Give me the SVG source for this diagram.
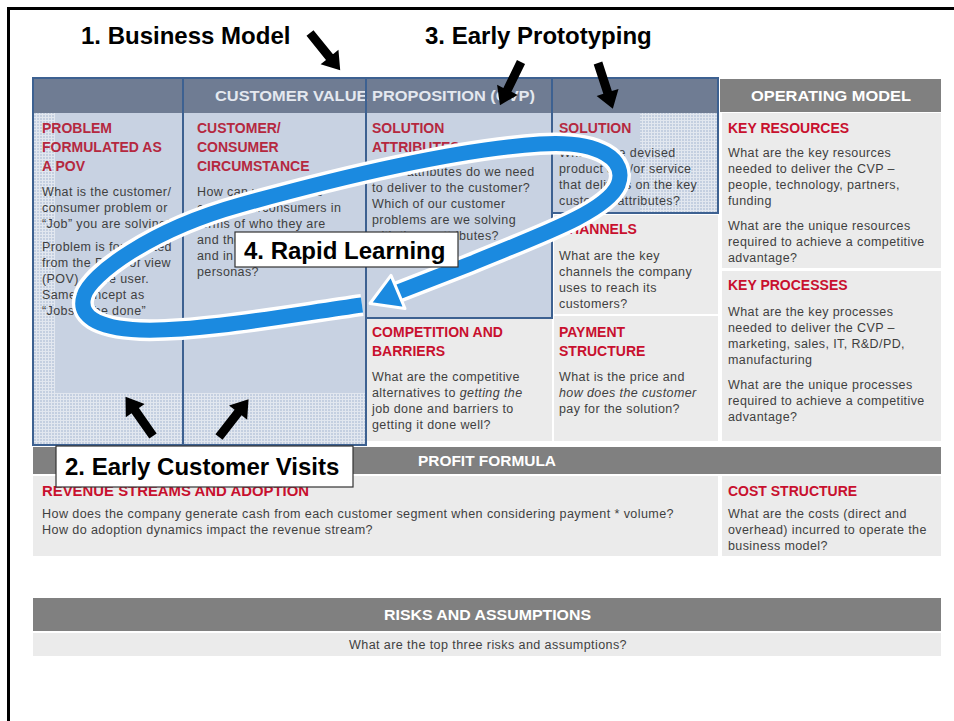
<svg xmlns="http://www.w3.org/2000/svg" width="954" height="721" viewBox="0 0 954 721">
  <defs>
    <style>
      .hdr { fill: #808080; }
      .cell { fill: #ebebeb; }
      .bcell { fill: #c8d2e2; }
      .box { fill: none; stroke: #3d6191; stroke-width: 2; }
      .htxt { font-family: "Liberation Sans", Arial, sans-serif; font-weight: bold; font-size: 14px; fill: #ffffff; }
      .ctxt { font-family: "Liberation Sans", Arial, sans-serif; font-weight: bold; font-size: 14px; fill: #e4e8ef; }
      .red { font-family: "Liberation Sans", Arial, sans-serif; font-weight: bold; font-size: 14px; fill: #c8102e; }
      .redb { font-family: "Liberation Sans", Arial, sans-serif; font-weight: bold; font-size: 14px; fill: #b5283f; }
      .body { font-family: "Liberation Sans", Arial, sans-serif; font-size: 12.5px; letter-spacing: 0.4px; fill: #3f3f3f; }
      .label { font-family: "Liberation Sans", Arial, sans-serif; font-weight: bold; font-size: 24px; fill: #000000; }
      .lblbox { fill: #ffffff; stroke: #333333; stroke-width: 1.2; }
      .blk { fill: #000000; }
    </style>
    <pattern id="mesh" width="3" height="3" patternUnits="userSpaceOnUse">
      <rect width="3" height="3" fill="#c4cfe0"/>
      <rect width="1" height="3" fill="#e2e7ef"/>
      <rect width="3" height="1" fill="#e2e7ef"/>
    </pattern>
    <path id="blockArrow" d="M0,-4.5 L31,-4.5 L31,-11.5 L48,0 L31,11.5 L31,4.5 L0,4.5 Z"/>
  </defs>

  <rect width="954" height="721" fill="#ffffff"/>
  <!-- page frame -->
  <path d="M8.5,721 L8.5,8.5 L954,8.5" fill="none" stroke="#000000" stroke-width="3"/>

  <!-- header band -->
  <g id="cvp-header">
    <rect x="33" y="78" width="685" height="35" fill="#6f7c93"/>
    <text class="ctxt" x="215" y="101" textLength="320" lengthAdjust="spacingAndGlyphs">CUSTOMER VALUE PROPOSITION (CVP)</text>
  </g>
  <g id="operating-header">
    <rect class="hdr" x="720" y="79" width="221" height="33"/>
    <text class="htxt" x="751" y="101" textLength="160" lengthAdjust="spacingAndGlyphs">OPERATING MODEL</text>
  </g>

  <!-- column 1 -->
  <g id="problem">
    <rect class="bcell" x="33" y="113" width="150" height="332"/>
    <rect x="33" y="113" width="22" height="280" fill="url(#mesh)"/>
    <rect x="33" y="393" width="150" height="52" fill="url(#mesh)"/>
    <text class="redb" x="42" y="133">PROBLEM</text>
    <text class="redb" x="42" y="152">FORMULATED AS</text>
    <text class="redb" x="42" y="171">A POV</text>
    <text class="body" x="42" y="196">What is the customer/</text>
    <text class="body" x="42" y="212">consumer problem or</text>
    <text class="body" x="42" y="228">“Job”  you are solving?</text>
    <text class="body" x="42" y="251">Problem is formulated</text>
    <text class="body" x="42" y="267">from the Point of view</text>
    <text class="body" x="42" y="283">(POV) of the user.</text>
    <text class="body" x="42" y="299">Same concept as</text>
    <text class="body" x="42" y="315">“Jobs to be done”</text>
  </g>

  <!-- column 2 -->
  <g id="customer">
    <rect class="bcell" x="183" y="113" width="183" height="332"/>
    <rect x="183" y="393" width="183" height="52" fill="url(#mesh)"/>
    <text class="redb" x="197" y="133">CUSTOMER/</text>
    <text class="redb" x="197" y="152">CONSUMER</text>
    <text class="redb" x="197" y="171">CIRCUMSTANCE</text>
    <text class="body" x="197" y="196">How can we describe</text>
    <text class="body" x="197" y="212">customers/consumers in</text>
    <text class="body" x="197" y="228">terms of who they are</text>
    <text class="body" x="197" y="244">and their circumstances</text>
    <text class="body" x="197" y="260">and in the form of</text>
    <text class="body" x="197" y="276">personas?</text>
  </g>

  <!-- column 3 -->
  <g id="solution-attributes">
    <rect class="bcell" x="366" y="113" width="186" height="205"/>
    <text class="redb" x="372" y="133">SOLUTION</text>
    <text class="redb" x="372" y="152">ATTRIBUTES</text>
    <text class="body" x="372" y="176">What attributes do we need</text>
    <text class="body" x="372" y="192">to deliver to the customer?</text>
    <text class="body" x="372" y="208">Which of our customer</text>
    <text class="body" x="372" y="224">problems are we solving</text>
    <text class="body" x="372" y="240">with these attributes?</text>
  </g>
  <g id="competition">
    <rect class="cell" x="367" y="319" width="185" height="122"/>
    <text class="red" x="372" y="337">COMPETITION  AND</text>
    <text class="red" x="372" y="356">BARRIERS</text>
    <text class="body" x="372" y="381">What are the competitive</text>
    <text class="body" x="372" y="397">alternatives to <tspan font-style="italic">getting the</tspan></text>
    <text class="body" x="372" y="413">job done and barriers to</text>
    <text class="body" x="372" y="429">getting it done well?</text>
  </g>

  <!-- column 4 -->
  <g id="solution">
    <rect class="bcell" x="552" y="113" width="166" height="100"/>
    <rect x="640" y="113" width="78" height="100" fill="url(#mesh)"/>
    <text class="redb" x="559" y="133">SOLUTION</text>
    <text class="body" x="559" y="157">What is the devised</text>
    <text class="body" x="559" y="173">product and/or service</text>
    <text class="body" x="559" y="189">that delivers on the key</text>
    <text class="body" x="559" y="205">customer attributes?</text>
  </g>
  <g id="channels">
    <rect class="cell" x="554" y="215" width="164" height="99"/>
    <text class="red" x="559" y="234">CHANNELS</text>
    <text class="body" x="559" y="260">What are the key</text>
    <text class="body" x="559" y="276">channels the company</text>
    <text class="body" x="559" y="292">uses to reach its</text>
    <text class="body" x="559" y="308">customers?</text>
  </g>
  <g id="payment">
    <rect class="cell" x="554" y="316" width="164" height="125"/>
    <text class="red" x="559" y="337">PAYMENT</text>
    <text class="red" x="559" y="356">STRUCTURE</text>
    <text class="body" x="559" y="381">What is the price and</text>
    <text class="body" x="559" y="397"><tspan font-style="italic">how does the customer</tspan></text>
    <text class="body" x="559" y="413">pay for the solution?</text>
  </g>

  <!-- column 5 -->
  <g id="key-resources">
    <rect class="cell" x="722" y="113" width="219" height="155"/>
    <text class="red" x="728" y="133">KEY RESOURCES</text>
    <text class="body" x="728" y="157">What are the key resources</text>
    <text class="body" x="728" y="173">needed to deliver the CVP –</text>
    <text class="body" x="728" y="189">people, technology, partners,</text>
    <text class="body" x="728" y="205">funding</text>
    <text class="body" x="728" y="230">What are the unique resources</text>
    <text class="body" x="728" y="246">required to achieve a competitive</text>
    <text class="body" x="728" y="262">advantage?</text>
  </g>
  <g id="key-processes">
    <rect class="cell" x="722" y="271" width="219" height="170"/>
    <text class="red" x="728" y="290">KEY PROCESSES</text>
    <text class="body" x="728" y="316">What are the key processes</text>
    <text class="body" x="728" y="332">needed to deliver the CVP –</text>
    <text class="body" x="728" y="348">marketing, sales, IT, R&amp;D/PD,</text>
    <text class="body" x="728" y="364">manufacturing</text>
    <text class="body" x="728" y="389">What are the unique processes</text>
    <text class="body" x="728" y="405">required to achieve a competitive</text>
    <text class="body" x="728" y="421">advantage?</text>
  </g>

  <!-- value proposition outlines -->
  <g id="cvp-outlines">
    <rect class="box" x="33" y="78" width="150" height="367"/>
    <rect class="box" x="183" y="78" width="183" height="367"/>
    <rect class="box" x="366" y="78" width="186" height="240"/>
    <rect class="box" x="552" y="78" width="166" height="135"/>
  </g>

  <!-- profit formula -->
  <g id="profit-header">
    <rect class="hdr" x="33" y="447" width="908" height="27"/>
    <text class="htxt" x="418" y="466" textLength="138" lengthAdjust="spacingAndGlyphs">PROFIT FORMULA</text>
  </g>
  <g id="revenue">
    <rect class="cell" x="33" y="476" width="685" height="80"/>
    <text class="red" x="42" y="496" textLength="267" lengthAdjust="spacingAndGlyphs">REVENUE STREAMS  AND ADOPTION</text>
    <text class="body" x="42" y="518" textLength="632" lengthAdjust="spacingAndGlyphs">How does the company generate cash from each customer segment when considering payment * volume?</text>
    <text class="body" x="42" y="534" textLength="331" lengthAdjust="spacingAndGlyphs">How do adoption dynamics impact the revenue stream?</text>
  </g>
  <g id="cost">
    <rect class="cell" x="722" y="476" width="219" height="80"/>
    <text class="red" x="728" y="496">COST STRUCTURE</text>
    <text class="body" x="728" y="518">What are the costs (direct and</text>
    <text class="body" x="728" y="534">overhead) incurred to operate the</text>
    <text class="body" x="728" y="550">business model?</text>
  </g>

  <!-- risks -->
  <g id="risks">
    <rect class="hdr" x="33" y="598" width="908" height="33"/>
    <text class="htxt" x="384" y="620" textLength="207" lengthAdjust="spacingAndGlyphs">RISKS AND ASSUMPTIONS</text>
    <rect class="cell" x="33" y="633" width="908" height="23"/>
    <text class="body" x="349" y="649" textLength="278" lengthAdjust="spacingAndGlyphs">What are the top three risks and assumptions?</text>
  </g>

  <!-- connectors -->
  <g id="connectors">
    <g id="learning-loop">
      <path d="M362,305 C290,315 200,332 140,330 C95,328 78,315 84,296 C90,275 150,230 240,205 C330,180 450,150 540,144 C600,140 628,160 618,185 C606,212 540,235 470,264 L398,292"
            fill="none" stroke="#ffffff" stroke-width="22" stroke-linejoin="round"/>
      <path d="M362,305 C290,315 200,332 140,330 C95,328 78,315 84,296 C90,275 150,230 240,205 C330,180 450,150 540,144 C600,140 628,160 618,185 C606,212 540,235 470,264 L398,292"
            fill="none" stroke="#1b8ae0" stroke-width="15" stroke-linejoin="round"/>
      <polygon points="370,303.5 391,275.4 405,308.6" fill="#1b8ae0" stroke="#ffffff" stroke-width="3" stroke-linejoin="round"/>
    </g>
    <use href="#blockArrow" class="blk" transform="translate(310,33) rotate(51)"/>
    <use href="#blockArrow" class="blk" transform="translate(521,62) rotate(116)"/>
    <use href="#blockArrow" class="blk" transform="translate(598,63) rotate(72)"/>
    <use href="#blockArrow" class="blk" transform="translate(153,436) rotate(-125)"/>
    <use href="#blockArrow" class="blk" transform="translate(219,437) rotate(-52)"/>
  </g>

  <!-- stage labels -->
  <g id="label-business-model">
    <text class="label" x="81" y="44">1. Business Model</text>
  </g>
  <g id="label-early-prototyping">
    <text class="label" x="425" y="44">3. Early Prototyping</text>
  </g>
  <g id="label-rapid-learning">
    <rect class="lblbox" x="235" y="232" width="223" height="35"/>
    <text class="label" x="244" y="259">4. Rapid Learning</text>
  </g>
  <g id="label-customer-visits">
    <rect class="lblbox" x="56" y="446" width="297" height="41"/>
    <text class="label" x="65" y="475">2. Early Customer Visits</text>
  </g>
</svg>
